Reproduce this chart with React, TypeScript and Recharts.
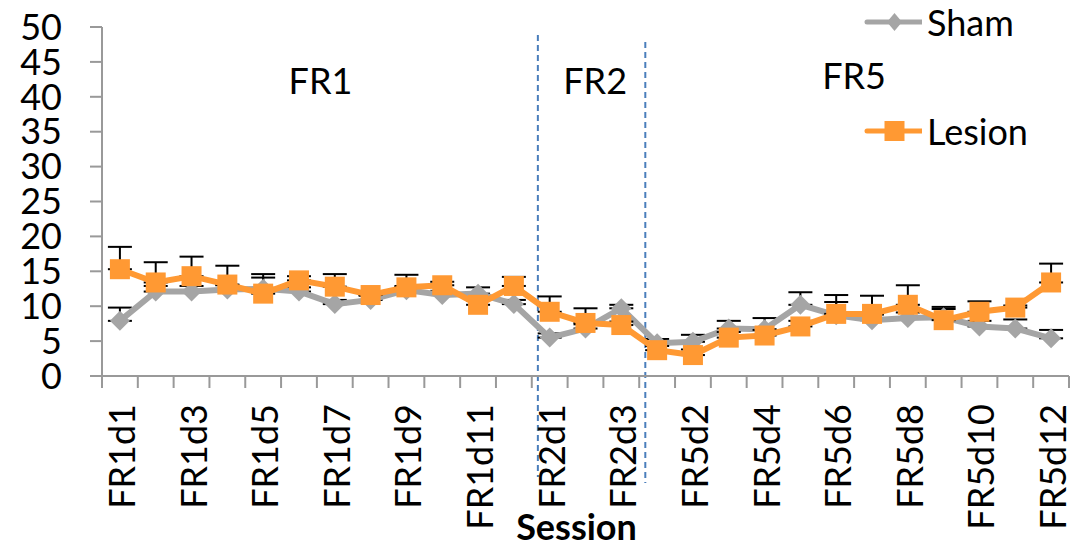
import React from 'react';
import { LineChart, Line, XAxis, YAxis, ErrorBar, Legend, ReferenceLine, ReferenceDot } from 'recharts';

const sessions = [
  'FR1d1', 'FR1d2', 'FR1d3', 'FR1d4', 'FR1d5', 'FR1d6', 'FR1d7', 'FR1d8', 'FR1d9', 'FR1d10', 'FR1d11', 'FR1d12',
  'FR2d1', 'FR2d2', 'FR2d3',
  'FR5d1', 'FR5d2', 'FR5d3', 'FR5d4', 'FR5d5', 'FR5d6', 'FR5d7', 'FR5d8', 'FR5d9', 'FR5d10', 'FR5d11', 'FR5d12',
];

const shamMean = [7.9, 12.1, 12.1, 12.4, 12.5, 12.1, 10.3, 10.9, 12.3, 11.6, 11.8, 10.3, 5.5, 6.8, 9.7, 4.7, 4.9, 6.8, 6.7, 10.2, 8.7, 8.0, 8.3, 8.4, 7.1, 6.8, 5.4];
const shamSem = [1.9, 0.8, 0.8, 0.6, 1.6, 0.6, 0.6, 0.6, 0.6, 0.6, 0.9, 0.6, 0.6, 0.6, 0.5, 0.6, 1.0, 1.1, 1.6, 1.8, 1.9, 0.8, 0.8, 1.2, 0.8, 1.3, 1.2];
const lesionMean = [15.3, 13.4, 14.3, 13.1, 11.8, 13.7, 12.8, 11.6, 12.7, 13.0, 10.2, 12.9, 9.2, 7.6, 7.3, 3.7, 3.0, 5.5, 5.8, 7.1, 8.9, 8.9, 10.2, 8.0, 9.2, 9.8, 13.4];
const lesionSem = [3.2, 2.9, 2.8, 2.7, 2.8, 0.6, 1.8, 0.5, 1.8, 0.5, 0.6, 1.3, 2.2, 2.1, 0.5, 0.6, 0.8, 0.8, 0.8, 0.8, 2.7, 2.6, 2.8, 1.9, 1.5, 0.3, 2.7];

const yTicks = [0, 5, 10, 15, 20, 25, 30, 35, 40, 45, 50];

// phase separators (in category units) and phase titles
const phaseBreaks = [11.67, 14.67];
const phaseLabels = [
  { text: 'FR1', x: 5.6, y: 42.3 },
  { text: 'FR2', x: 13.27, y: 42.3 },
  { text: 'FR5', x: 20.5, y: 43.0 },
];

const data = sessions.map((s, i) => ({
  idx: i,
  session: s,
  sham: shamMean[i],
  shamErr: [0, shamSem[i]],
  lesion: lesionMean[i],
  lesionErr: [0, lesionSem[i]],
}));

// boundary ticks (tick marks) + every other category centre (labels)
const xTicks: number[] = [];
for (let i = 0; i <= sessions.length; i++) xTicks.push(i - 0.5);
for (let i = 0; i < sessions.length; i += 2) xTicks.push(i);
xTicks.sort((a, b) => a - b);

const AXIS = '#999999';
const GRAY = '#A5A5A5';
const ORANGE = '#FF9933';
const FONT = 'Lato';

function SessionTick(props: any) {
  const { x, y, payload } = props;
  const v = payload.value;
  if (!Number.isInteger(v)) {
    return <line x1={x} y1={y - 12} x2={x} y2={y} stroke={AXIS} strokeWidth={2} />;
  }
  return (
    <text
      transform={`translate(${x + 15},${y + 16}) rotate(-90)`}
      textAnchor="end"
      fontSize={36}
      fontFamily={FONT}
      fill="#000"
    >
      {sessions[v]}
    </text>
  );
}

const Diamond = (props: any) => {
  const { cx, cy, index } = props;
  return (
    <path
      key={`d-${index}`}
      d={`M${cx},${cy - 10} L${cx + 10},${cy} L${cx},${cy + 10} L${cx - 10},${cy} Z`}
      fill={GRAY}
    />
  );
};

const Square = (props: any) => {
  const { cx, cy, index } = props;
  return <rect key={`s-${index}`} x={cx - 10} y={cy - 10} width={20} height={20} fill={ORANGE} />;
};

const dashExtents = [
  { top: 8, bottom: 101 },
  { top: 15, bottom: 107 },
];

function LegendBox() {
  const row = (label: string, color: string, marker: 'diamond' | 'square', top: number) => (
    <div style={{ position: 'absolute', left: 0, top, height: 44, display: 'flex', alignItems: 'center' }}>
      <svg width={62} height={44}>
        <line x1={7} y1={22} x2={62} y2={22} stroke={color} strokeWidth={5} strokeLinecap="round" />
        {marker === 'diamond' ? (
          <path d="M34.5,13 L42,22 L34.5,31 L27,22 Z" fill={color} />
        ) : (
          <rect x={24.5} y={12} width={20} height={20} fill={color} />
        )}
      </svg>
      <span style={{ fontFamily: FONT, fontSize: 36, color: '#000', marginLeft: 5, lineHeight: '44px' }}>{label}</span>
    </div>
  );
  return (
    <div style={{ position: 'relative', width: 221, height: 160 }}>
      {row('Sham', GRAY, 'diamond', 0)}
      {row('Lesion', ORANGE, 'square', 109)}
    </div>
  );
}

export default function App() {
  return (
    <div style={{ position: 'absolute', left: 0, top: 0, width: 1081, height: 548, background: '#fff' }}>
      <LineChart
        width={1081}
        height={548}
        data={data}
        margin={{ top: 27, right: 12, left: 12, bottom: 0 }}
        style={{ fontFamily: FONT }}
      >
        <XAxis
          dataKey="idx"
          type="number"
          domain={[-0.5, sessions.length - 0.5]}
          ticks={xTicks}
          interval={0}
          height={172}
          tickSize={12}
          tickMargin={0}
          tickLine={false}
          axisLine={{ stroke: AXIS, strokeWidth: 2 }}
          tick={<SessionTick />}
          label={{
            value: 'Session',
            position: 'insideBottom',
            offset: 8,
            dx: -9,
            fontSize: 36,
            fontWeight: 'bold',
            fill: '#000',
            fontFamily: FONT,
          }}
        />
        <YAxis
          type="number"
          domain={[0, 50]}
          ticks={yTicks}
          interval={0}
          width={90}
          tickSize={12}
          tickMargin={28}
          axisLine={{ stroke: AXIS, strokeWidth: 2 }}
          tickLine={{ stroke: AXIS, strokeWidth: 2 }}
          tick={{ fontSize: 36, fill: '#000', fontFamily: FONT }}
        />
        {phaseBreaks.map((b, i) => (
          <ReferenceLine
            key={`brk-${i}`}
            x={b}
            shape={(p: any) => {
              const yTop = Math.min(p.y1, p.y2) + dashExtents[i].top;
              const yBot = Math.max(p.y1, p.y2) + dashExtents[i].bottom;
              return (
                <line x1={p.x1} y1={yTop} x2={p.x2} y2={yBot} stroke="#4A7EBB" strokeWidth={2} strokeDasharray="6 4" />
              );
            }}
          />
        ))}
        {phaseLabels.map((l) => (
          <ReferenceDot
            key={l.text}
            x={l.x}
            y={l.y}
            r={1}
            fill="none"
            stroke="none"
            label={{ value: l.text, position: 'center', fontSize: 36, fill: '#000', fontFamily: FONT }}
          />
        ))}
        <Legend
          layout="vertical"
          align="center"
          verticalAlign="middle"
          wrapperStyle={{ position: 'absolute', top: 0, left: 860, width: 221 }}
          content={() => <LegendBox />}
        />
        <Line
          name="Sham"
          dataKey="sham"
          type="linear"
          stroke={GRAY}
          strokeWidth={6}
          dot={<Diamond />}
          activeDot={false}
          isAnimationActive={false}
        >
          <ErrorBar dataKey="shamErr" direction="y" width={12} stroke="#000" strokeWidth={2} />
        </Line>
        <Line
          name="Lesion"
          dataKey="lesion"
          type="linear"
          stroke={ORANGE}
          strokeWidth={6}
          dot={<Square />}
          activeDot={false}
          isAnimationActive={false}
        >
          <ErrorBar dataKey="lesionErr" direction="y" width={12} stroke="#000" strokeWidth={2} />
        </Line>
      </LineChart>
    </div>
  );
}
